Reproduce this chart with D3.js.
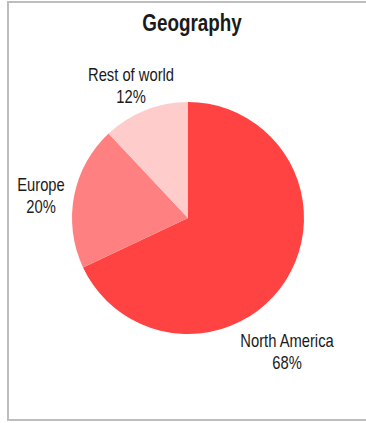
<!DOCTYPE html>
<html>
<head>
<meta charset="utf-8">
<script src="https://cdn.jsdelivr.net/npm/d3@7"></script>
<style>
  html, body { margin: 0; padding: 0; background: #fff; }
  svg { display: block; }
  text { font-family: "Liberation Sans Narrow", "Liberation Sans", Arial, sans-serif; fill: #1a1a1a; }
</style>
</head>
<body>
<svg id="chart" width="366" height="423"></svg>
<script>
// Revenue share by region
const regions = ["North America", "Europe", "Rest of world"];
const shares = [68, 20, 12];
const sliceColors = ["#FF4343", "#FF8080", "#FFCCCC"];

// Label anchor offsets from the pie centre (layout only)
const labelOffsets = [[99, 129], [-147, -27], [-57, -137]];

const W = 366, H = 423;
const cx = 188, cy = 218, radius = 116;
// horizontal condensing so the sans face reads like a narrow face
const narrow = 0.82;

const svg = d3.select("#chart");

// frame
svg.append("rect")
  .attr("x", 8).attr("y", 2)
  .attr("width", W + 10).attr("height", H - 3 - 2)
  .attr("fill", "#fff")
  .attr("stroke", "#BDBDBD")
  .attr("stroke-width", 2);

// title
svg.append("text")
  .attr("transform", `translate(192,31) scale(${narrow},1)`)
  .attr("text-anchor", "middle")
  .attr("font-size", 23)
  .attr("font-weight", "bold")
  .text("Geography");

const data = regions.map((name, i) => ({ name, value: shares[i], color: sliceColors[i] }));

const pie = d3.pie().sort(null).value(d => d.value);
const arc = d3.arc().innerRadius(0).outerRadius(radius);

const g = svg.append("g").attr("transform", `translate(${cx},${cy})`);

const arcs = pie(data);

g.selectAll("path.slice")
  .data(arcs)
  .join("path")
  .attr("class", "slice")
  .attr("d", arc)
  .attr("fill", d => d.data.color);

const labels = g.selectAll("text.lbl")
  .data(arcs)
  .join("text")
  .attr("class", "lbl")
  .attr("text-anchor", "middle")
  .attr("font-size", 18)
  .attr("transform", (d, i) => `translate(${labelOffsets[i][0]},${labelOffsets[i][1]}) scale(${narrow},1)`);

labels.append("tspan")
  .attr("x", 0).attr("dy", 0)
  .text(d => d.data.name);
labels.append("tspan")
  .attr("x", 0).attr("dy", 22.5)
  .text(d => d.data.value + "%");
</script>
</body>
</html>
